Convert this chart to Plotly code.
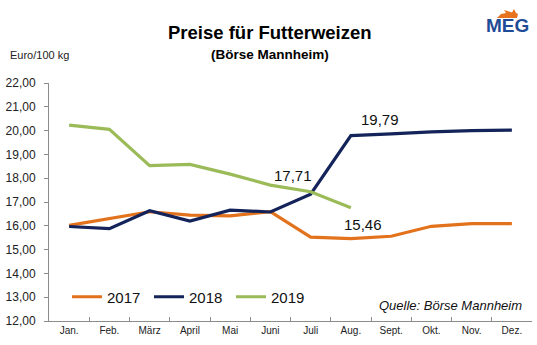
import plotly.graph_objects as go

months = ["Jan.", "Feb.", "März", "April", "Mai", "Juni", "Juli", "Aug.",
          "Sept.", "Okt.", "Nov.", "Dez."]
prices_2017 = [16.02, 16.30, 16.59, 16.45, 16.42, 16.59, 15.52, 15.46,
               15.56, 15.98, 16.09, 16.09]
prices_2018 = [15.97, 15.88, 16.63, 16.20, 16.66, 16.58, 17.33, 19.79,
               19.86, 19.95, 20.00, 20.02]
prices_2019 = [20.23, 20.05, 18.53, 18.58, 18.17, 17.71, 17.43, 16.76]

W, H = 537, 345
L, R, T, B = 49, 5, 83, 24
PW, PH = W - L - R, H - T - B


def px(x):
    return (x - L) / PW


def py(y):
    return (H - B - y) / PH


FONT = "Liberation Sans, Arial, sans-serif"

fig = go.Figure()
series = [("2017", prices_2017, "#E3721D"),
          ("2018", prices_2018, "#14245A"),
          ("2019", prices_2019, "#9BBB59")]
for name, vals, col in series:
    fig.add_trace(go.Scatter(
        x=months[:len(vals)], y=vals, name=name, mode="lines",
        line=dict(color=col, width=3.2),
    ))

# value callouts
callouts = [(months[5], prices_2019[5], 23, 10),
            (months[7], prices_2018[7], 29, 16),
            (months[7], prices_2017[7], 12, 14)]
annotations = []
for xc, yv, dx, dy in callouts:
    annotations.append(dict(
        x=xc, y=yv, xref="x", yref="y", text=f"{yv:.2f}".replace(".", ","),
        showarrow=False, xshift=dx, yshift=dy,
        font=dict(family=FONT, size=15, color="#111"),
    ))


def label(x, y, text, size, color="#111", anchor="center"):
    return dict(x=px(x), y=py(y), xref="paper", yref="paper", text=text,
                showarrow=False, xanchor=anchor, yanchor="middle",
                font=dict(family=FONT, size=size, color=color))


annotations += [
    label(270, 32, "<b>Preise für Futterweizen</b>", 18.5, "#000"),
    label(270, 55, "<b>(Börse Mannheim)</b>", 13.5, "#000"),
    label(8, 55, "Euro/100 kg", 11, "#222", "left"),
    label(524, 305, "<i>Quelle: Börse Mannheim</i>", 13, "#111", "right"),
    label(507, 26, "<b>MEG</b>", 19, "#1F4C96"),
]

# small orange flame above the logo lettering
flame = [(497, 18), (501, 14), (506, 13), (504, 10), (509, 11.5), (512, 12.5),
         (514, 9), (516, 13), (518, 14), (517, 18)]
path = "M " + " L ".join(f"{px(a):.4f},{py(b):.4f}" for a, b in flame) + " Z"
shapes = [dict(type="path", path=path, xref="paper", yref="paper",
               fillcolor="#E8731E", line=dict(width=0))]

fig.update_layout(
    width=W, height=H,
    margin=dict(l=L, r=R, t=T, b=B, autoexpand=False),
    paper_bgcolor="white", plot_bgcolor="white",
    separators=",.",
    font=dict(family=FONT, color="#111"),
    showlegend=True,
    legend=dict(orientation="h", x=px(67), y=py(297), xanchor="left",
                yanchor="middle", bgcolor="rgba(0,0,0,0)",
                font=dict(family=FONT, size=15, color="#111"),
                entrywidth=37, entrywidthmode="pixels",
                traceorder="normal"),
    annotations=annotations,
    shapes=shapes,
    xaxis=dict(
        type="category", categoryorder="array", categoryarray=months,
        range=[-0.5, 11.5], showline=True, linecolor="#8C8C8C", linewidth=1,
        ticks="inside", tickson="boundaries", ticklen=4, tickcolor="#8C8C8C",
        showgrid=False, zeroline=False,
        tickfont=dict(family=FONT, size=10, color="#222"),
    ),
    yaxis=dict(
        range=[12, 22], dtick=1, tickformat=".2f", showline=True,
        linecolor="#8C8C8C", linewidth=1, ticks="outside", ticklen=4,
        tickcolor="#8C8C8C", showgrid=False, zeroline=False,
        ticklabelstandoff=6,
        tickfont=dict(family=FONT, size=12, color="#222"),
    ),
)

fig.write_html("out.html")
